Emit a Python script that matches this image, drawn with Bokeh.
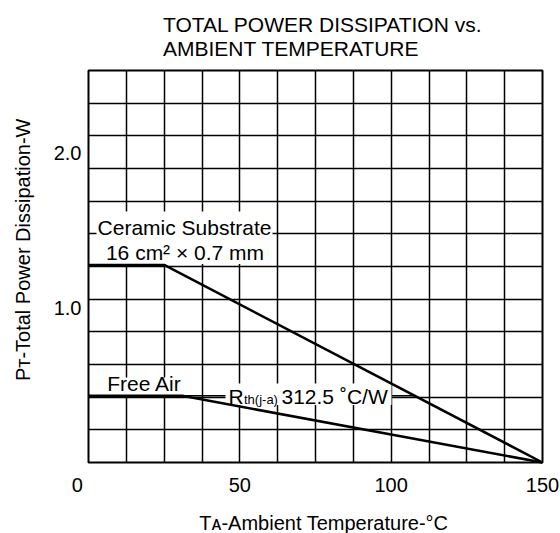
from bokeh.plotting import figure
from bokeh.models import Range1d, FixedTicker, Label, BoxAnnotation
from bokeh.embed import file_html
from bokeh.resources import INLINE

# ---- data ----
temp_ceramic = [0, 25, 150]
power_ceramic = [1.275, 1.275, 0.0]
temp_free = [0, 31, 150]
power_free = [0.43, 0.43, 0.0]
x_ticks = [0, 50, 100, 150]
y_ticks = [1.0, 2.0]

# ---- layout geometry (page pixels) ----
W, H = 560, 533
FX0, FX1, FY0, FY1 = 88, 542, 462, 70   # frame left, right, bottom, top
XMAX = 150
PX_PER_W = 155.0
YMAX = (FY0 - FY1) / PX_PER_W

def dx(px):
    return (px - FX0) / (FX1 - FX0) * XMAX

def dy(py):
    return (FY0 - py) / PX_PER_W

FONT = "Liberation Sans"
FS = "20px"
FS_ANN = "21px"
FS_SMALL = "13px"
NB = "\u00a0"

p = figure(frame_width=FX1 - FX0, frame_height=FY0 - FY1,
           min_border_left=FX0, min_border_right=W - FX1,
           min_border_top=FY1, min_border_bottom=H - FY0,
           x_range=Range1d(0, XMAX), y_range=Range1d(0, YMAX),
           output_backend="svg", toolbar_location=None,
           background_fill_color="white", border_fill_color="white")

# title (two lines)
p.title.text = "TOTAL POWER DISSIPATION vs.\nAMBIENT TEMPERATURE"
p.title.align = "left"
p.title.offset = 162.5 - FX0
p.title.vertical_align = "top"
p.title.standoff = 17
p.title.text_font = FONT
p.title.text_font_size = FS_ANN
p.title.text_font_style = "normal"
p.title.text_color = "black"
p.title.text_line_height = 1.05

p.outline_line_color = "black"
p.outline_line_width = 2
p.outline_line_alpha = 1

# grid: 12 x 12 cells
p.xgrid.ticker = FixedTicker(ticks=[XMAX * i / 12 for i in range(1, 12)])
p.ygrid.ticker = FixedTicker(ticks=[YMAX * i / 12 for i in range(1, 12)])
for g in (p.xgrid, p.ygrid):
    g.grid_line_color = "black"
    g.grid_line_width = 1.5
    g.grid_line_alpha = 1

# axes
p.xaxis.ticker = FixedTicker(ticks=x_ticks)
p.yaxis.ticker = FixedTicker(ticks=y_ticks)
p.xaxis.major_label_overrides = {0: "0" + NB * 4}
p.yaxis.major_label_overrides = {1.0: "1.0", 2.0: "2.0"}
for ax in (p.xaxis, p.yaxis):
    ax.axis_line_color = None
    ax.major_tick_line_color = None
    ax.minor_tick_line_color = None
    ax.major_tick_out = 0
    ax.major_tick_in = 0
    ax.minor_tick_out = 0
    ax.major_label_text_font = FONT
    ax.major_label_text_font_size = FS
    ax.major_label_text_color = "black"
    ax.axis_label_text_font = FONT
    ax.axis_label_text_font_size = FS
    ax.axis_label_text_font_style = "normal"
    ax.axis_label_text_color = "black"
p.xaxis.major_label_standoff = 11
p.yaxis.major_label_standoff = 7
p.xaxis.axis_label = NB * 3 + "T\u1d00-Ambient Temperature-°C"
p.yaxis.axis_label = NB * 6 + "P\u1d1b-Total Power Dissipation-W"
p.xaxis.axis_label_standoff = 13
p.yaxis.axis_label_standoff = 17

# white boxes behind the annotations
for l, r, t, b in [(96, 272, 211, 263.5), (100, 192, 377, 394.5), (225, 391, 383, 404.5)]:
    p.add_layout(BoxAnnotation(left=dx(l), right=dx(r), top=dy(t), bottom=dy(b),
                               fill_color="white", fill_alpha=1, line_color=None))

# leader line from the free-air knee to the ceramic curve
p_level = power_free[1]
t_cross = temp_ceramic[1] + (power_ceramic[1] - p_level) / power_ceramic[1] * (temp_ceramic[2] - temp_ceramic[1])
p.line([temp_free[1], t_cross], [p_level, p_level], line_color="black", line_width=1.5)

# derating curves
p.line(temp_ceramic, power_ceramic, line_color="black", line_width=2.5, level="overlay")
p.line(temp_free, power_free, line_color="black", line_width=2.5, level="overlay")

def lab(text, px, py, size=FS_ANN, align="left"):
    # px, py: page pixel of the anchor (text vertical middle)
    p.add_layout(Label(x=px - FX0, y=FY0 - py, x_units="screen", y_units="screen",
                       text=text, text_font=FONT, text_font_size=size,
                       text_color="black", text_align=align, text_baseline="middle"))

BIG_MID = 0.3465 * 21
SMALL_MID = 0.3465 * 13

# in-plot annotations
lab("Ceramic Substrate", 184, 226.7, align="center")
lab("16 cm² × 0.7 mm", 184.5, 251.7, align="center")
lab("Free Air", 144, 383.3, align="center")
base = 403.3
lab("R", 228, base - BIG_MID)
lab("th(j-a)", 243.5, base - SMALL_MID, size=FS_SMALL)
lab("312.5 ˚C/W", 281, base - BIG_MID)

open("out.html", "w").write(file_html(p, INLINE))
